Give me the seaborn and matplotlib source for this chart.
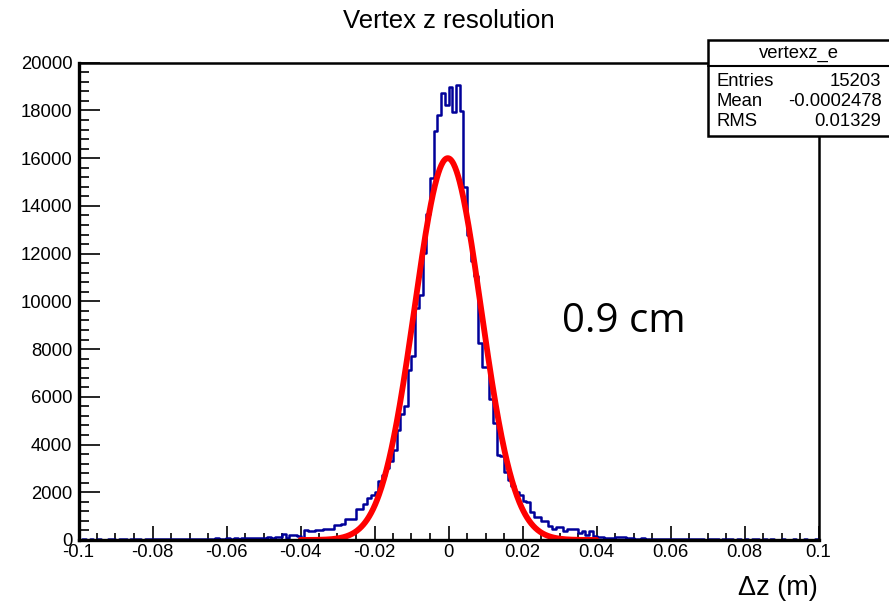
import numpy as np
import pandas as pd
import matplotlib
matplotlib.use("Agg")
import matplotlib.pyplot as plt
from matplotlib.patches import Rectangle
from matplotlib.lines import Line2D
from matplotlib.ticker import FixedLocator, MultipleLocator
import seaborn as sns

# ---------------- data ----------------
x_min, x_max, n_bins = -0.1, 0.1, 200

# bin contents, lower edges -0.100 ... -0.071
counts_far_left = [20, 30, 20, 30, 20, 30, 20, 20, 30, 30,
                   20, 30, 30, 20, 30, 40, 30, 20, 30, 30,
                   40, 40, 30, 50, 40, 40, 30, 50, 40, 40]
# lower edges -0.070 ... -0.049
counts_left_tail = [50, 40, 60, 50, 40, 60, 50, 70, 50, 60, 70,
                    60, 80, 60, 100, 90, 70, 80, 90, 80, 100, 110]
# lower edges -0.048 ... -0.001
counts_core_left = [90, 130, 130, 270, 90, 190, 190, 170, 100, 410,
                    370, 370, 410, 420, 470, 480, 470, 620, 640, 650,
                    860, 860, 880, 1280, 1280, 1490, 1770, 1900, 2000, 2460,
                    2740, 3020, 3300, 3790, 4630, 5260, 5600, 7140, 7700, 9720,
                    10280, 12030, 13680, 15170, 17150, 17820, 18730, 18240]
# lower edges 0.000 ... 0.049
counts_core_right = [18970, 17920, 19080, 17960, 14790, 12800, 11680, 11050, 8260, 7240,
                     7240, 5890, 4910, 3580, 3510, 2860, 2530, 2260, 2000, 1900,
                     1630, 1600, 1160, 970, 970, 790, 790, 580, 440, 540,
                     540, 370, 440, 440, 440, 300, 370, 190, 370, 180,
                     134, 134, 92, 92, 92, 134, 120, 110, 80, 70]
# lower edges 0.050 ... 0.099
counts_far_right = [60, 50, 70, 50, 40, 60, 40, 50, 40, 30,
                    40, 50, 30, 40, 30, 40, 30, 30, 40, 20,
                    30, 40, 30, 20, 30, 40, 30, 20, 30, 20,
                    30, 20, 30, 40, 20, 30, 20, 30, 20, 20,
                    30, 20, 20, 30, 20, 20, 30, 20, 20, 30]

# Gaussian fit parameters
fit_amp, fit_mean, fit_sigma = 16000.0, -0.0002, 0.0090
fit_lo, fit_hi = -0.04, 0.04

x_ticks = [-0.1, -0.08, -0.06, -0.04, -0.02, 0, 0.02, 0.04, 0.06, 0.08, 0.1]
x_tick_labels = ["-0.1", "-0.08", "-0.06", "-0.04", "-0.02", "0",
                 "0.02", "0.04", "0.06", "0.08", "0.1"]
y_ticks = [0, 2000, 4000, 6000, 8000, 10000, 12000, 14000, 16000, 18000, 20000]
y_tick_labels = [str(v) for v in y_ticks]

title = "Vertex z resolution"
x_label = "\u0394z (m)"
note = "0.9 cm"
stats_name = "vertexz_e"
stats_rows = [("Entries", "15203"), ("Mean", "-0.0002478"), ("RMS", "0.01329")]

# ---------------- build ----------------
counts = np.array(counts_far_left + counts_left_tail + counts_core_left
                  + counts_core_right + counts_far_right, dtype=float)
edges = np.linspace(x_min, x_max, n_bins + 1)
centers = 0.5 * (edges[:-1] + edges[1:])
df = pd.DataFrame({"dz": centers, "n": counts})

xf = np.linspace(fit_lo, fit_hi, 600)
fit_df = pd.DataFrame({"dz": xf,
                       "f": fit_amp * np.exp(-0.5 * ((xf - fit_mean) / fit_sigma) ** 2)})

sns.set_theme(style="white")
plt.rcParams['font.family'] = ['Liberation Sans', 'DejaVu Sans']

W, H = 889, 603
fig = plt.figure(figsize=(W / 100, H / 100), dpi=100)
fig.patch.set_facecolor("white")
L, R, T, B = 78.5, 818.5, 62.7, 540.0
ax = fig.add_axes([L / W, 1 - B / H, (R - L) / W, (B - T) / H])
ax.set_facecolor("white")

sns.histplot(data=df, x="dz", weights="n", bins=n_bins, binrange=(x_min, x_max),
             element="step", fill=False, color="#000099", linewidth=1.8, ax=ax)
sns.lineplot(data=fit_df, x="dz", y="f", color="#ff0000", linewidth=4.2,
             ax=ax, sort=True)

ax.set_xlim(x_min, x_max)
ax.set_ylim(0, 20000)
ax.set_xlabel("")
ax.set_ylabel("")

ax.xaxis.set_major_locator(FixedLocator(x_ticks))
ax.set_xticklabels(x_tick_labels)
ax.xaxis.set_minor_locator(MultipleLocator(0.005))
ax.yaxis.set_major_locator(FixedLocator(y_ticks))
ax.set_yticklabels(y_tick_labels)
ax.yaxis.set_minor_locator(MultipleLocator(400))

ax.tick_params(axis="x", which="major", direction="in", length=10, width=1.2,
               color="black", labelsize=13.3, pad=3, bottom=True, top=False)
ax.tick_params(axis="x", which="minor", direction="in", length=5, width=1.2,
               color="black", bottom=True, top=False)
ax.tick_params(axis="y", which="major", direction="in", length=15, width=1.2,
               color="black", labelsize=13.3, pad=4.5, left=True, right=False)
ax.tick_params(axis="y", which="minor", direction="in", length=7.5, width=1.2,
               color="black", left=True, right=False)
for lbl in ax.get_xticklabels() + ax.get_yticklabels():
    lbl.set_color("black")

for side, lw in (("left", 2.4), ("bottom", 2.4), ("top", 1.8), ("right", 1.8)):
    ax.spines[side].set_visible(True)
    ax.spines[side].set_color("black")
    ax.spines[side].set_linewidth(lw)

# title and labels
fig.text(449 / W, 1 - 21 / H, title, ha="center", va="center", fontsize=18.5,
         color="black")
fig.text(818 / W, 1 - 588 / H, x_label, ha="right", va="center", fontsize=19.5,
         color="black")
fig.text(562 / W, 1 - 322 / H, note, ha="left", va="center", fontsize=29,
         color="black", family=["Open Sans", "DejaVu Sans"])

# stats box
bx0, bx1, by0, by1, bsep = 708, 900, 40, 136, 65.5
fig.patches.append(Rectangle((bx0 / W, 1 - by1 / H), (bx1 - bx0) / W, (by1 - by0) / H,
                             transform=fig.transFigure, facecolor="white",
                             edgecolor="black", linewidth=1.8, zorder=5))
fig.lines.append(Line2D([bx0 / W, bx1 / W], [1 - bsep / H, 1 - bsep / H],
                        transform=fig.transFigure, color="black", linewidth=1.5,
                        zorder=6))
fig.text((bx0 + 889) / 2 / W, 1 - 53 / H, stats_name, ha="center", va="center",
         fontsize=13.3, color="black", zorder=7)
for (lab, val), yy in zip(stats_rows, [81.5, 101.7, 122.0]):
    fig.text(716.5 / W, 1 - yy / H, lab, ha="left", va="center", fontsize=13.3,
             color="black", zorder=7)
    fig.text(881.5 / W, 1 - yy / H, val, ha="right", va="center", fontsize=13.3,
             color="black", zorder=7)

fig.savefig("out.png", dpi=100, facecolor="white")
